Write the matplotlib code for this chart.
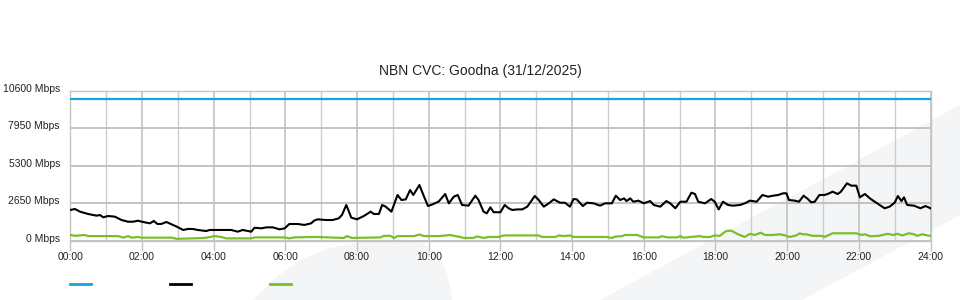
import matplotlib
matplotlib.use("Agg")
import matplotlib.pyplot as plt
import matplotlib.transforms as mtransforms
from matplotlib.patches import Polygon
from matplotlib.lines import Line2D

plt.rcParams['font.family'] = ['Liberation Sans', 'DejaVu Sans']

title = "NBN CVC: Goodna (31/12/2025)"
y_ticks = [0, 2650, 5300, 7950, 10600]
y_tick_labels = ["0 Mbps", "2650 Mbps", "5300 Mbps", "7950 Mbps", "10600 Mbps"]
x_ticks = list(range(0, 25, 2))
x_tick_labels = ["%02d:00" % h for h in x_ticks]

capacity_t = [0, 24]
capacity_v = [10000, 10000]

black_t = [0, 0.13, 0.27, 0.5, 0.73, 0.83, 0.92, 1.05, 1.24, 1.43, 1.61, 1.75, 1.89, 2.03,
           2.22, 2.33, 2.43, 2.54, 2.68, 2.82, 2.97, 3.15, 3.28, 3.42, 3.56, 3.79, 3.89,
           4.12, 4.49, 4.67, 4.81, 4.96, 5.05, 5.14, 5.33, 5.47, 5.65, 5.84, 5.98, 6.11,
           6.35, 6.53, 6.72, 6.80, 6.9, 7.13, 7.32, 7.49, 7.58, 7.70, 7.84, 8.0, 8.19,
           8.38, 8.47, 8.61, 8.70, 8.80, 8.96, 9.13, 9.24, 9.36, 9.48, 9.57, 9.74, 9.87,
           9.98, 10.11, 10.28, 10.46, 10.56, 10.70, 10.81, 10.93, 11.11, 11.30, 11.39,
           11.53, 11.62, 11.72, 11.81, 12.0, 12.12, 12.23, 12.33, 12.47, 12.61, 12.75,
           12.96, 13.07, 13.21, 13.35, 13.49, 13.66, 13.80, 13.94, 14.04, 14.13, 14.30,
           14.42, 14.60, 14.78, 14.92, 15.11, 15.22, 15.34, 15.45, 15.52, 15.62, 15.71,
           15.85, 16.0, 16.18, 16.28, 16.46, 16.63, 16.74, 16.88, 17.02, 17.19, 17.33,
           17.43, 17.52, 17.71, 17.88, 17.98, 18.09, 18.21, 18.35, 18.49, 18.68, 18.82,
           18.96, 19.15, 19.31, 19.47, 19.60, 19.75, 19.89, 19.98, 20.05, 20.21, 20.33,
           20.46, 20.58, 20.67, 20.77, 20.90, 21.04, 21.13, 21.27, 21.41, 21.50, 21.67,
           21.79, 21.93, 22.03, 22.17, 22.31, 22.40, 22.58, 22.72, 22.86, 23.0, 23.09,
           23.19, 23.26, 23.35, 23.54, 23.72, 23.86, 24.0]
black_v = [2158, 2229, 2040, 1875, 1757, 1800, 1640, 1733, 1690, 1450, 1330, 1330, 1400, 1310,
           1215, 1380, 1170, 1170, 1310, 1150, 980, 745, 815, 815, 745, 670, 745,
           745, 745, 625, 745, 670, 625, 905, 860, 930, 930, 790, 860, 1167,
           1167, 1100, 1215, 1400, 1500, 1450, 1450, 1570, 1805, 2512, 1615, 1500, 1733,
           2040, 1875, 1875, 2512, 2395, 2040, 3220, 2865, 2910, 3573, 3220, 3927, 3100,
           2440, 2560, 2760, 3290, 2630, 3100, 3220, 2512, 2465, 3170, 2865,
           2040, 1920, 2350, 2000, 2000, 2512, 2280, 2160, 2200, 2200, 2395,
           3150, 2865, 2395, 2630, 2910, 2675, 2675, 2395, 2935, 2910, 2440,
           2675, 2630, 2465, 2630, 2630, 3170, 2865, 2980, 2790, 2980, 2745,
           2820, 2630, 2790, 2512, 2395, 2790, 2630, 2280, 2745, 2745, 3385,
           3290, 2745, 2630, 2935, 2745, 2200, 2745, 2512, 2465, 2512, 2630,
           2820, 2745, 3220, 3100, 3170, 3220, 3340, 3340, 2865, 2820, 2745,
           3170, 2935, 2700, 2745, 3220, 3220, 3290, 3455, 3290, 3455, 4045,
           3880, 3880, 3055, 3290, 2980, 2820, 2512, 2280, 2395, 2675, 3150,
           2790, 3055, 2512, 2465, 2280, 2440, 2280]

green_t = [0, 0.13, 0.4, 0.5, 1.34, 1.48, 1.61, 1.71, 1.89, 1.98, 2.82, 2.97, 3.42, 3.75,
           4.03, 4.21, 4.35, 5.05, 5.14, 5.98, 6.11, 6.25, 6.86, 7.63, 7.72, 7.86, 8.65,
           8.75, 8.93, 9.03, 9.13, 9.59, 9.74, 9.87, 10.28, 10.6, 10.74, 10.88, 10.97,
           11.25, 11.34, 11.53, 11.67, 11.95, 12.09, 13.07, 13.16, 13.54, 13.63, 13.77,
           13.94, 14.04, 14.97, 15.11, 15.2, 15.39, 15.48, 15.81, 16.0, 16.42, 16.51,
           16.65, 16.93, 17.02, 17.1, 17.57, 17.66, 17.85, 17.98, 18.12, 18.21, 18.3,
           18.44, 18.63, 18.82, 18.96, 19.1, 19.26, 19.38, 19.61, 19.8, 19.94, 20.07,
           20.26, 20.35, 20.44, 20.53, 20.71, 20.95, 21.04, 21.27, 21.93, 22.07, 22.17,
           22.31, 22.55, 22.81, 22.95, 23.07, 23.21, 23.4, 23.54, 23.63, 23.77, 23.91, 24.0]
green_v = [390, 330, 390, 310, 310, 200, 310, 200, 250, 200, 200, 120, 150, 180,
           310, 250, 150, 150, 220, 220, 150, 220, 250, 180, 310, 180, 220,
           330, 330, 180, 310, 310, 420, 310, 310, 390, 310, 250, 180,
           180, 290, 180, 250, 250, 360, 360, 250, 250, 360, 310,
           360, 250, 250, 180, 270, 310, 390, 390, 220, 220, 310,
           220, 220, 310, 200, 310, 250, 250, 360, 330, 510, 670,
           700, 440, 250, 470, 390, 550, 390, 390, 440, 360, 250,
           360, 510, 440, 440, 330, 330, 250, 510, 510, 390, 440,
           300, 330, 470, 390, 470, 360, 510, 440, 330, 440, 360, 330]

W, H = 960, 300
fig = plt.figure(figsize=(W / 100, H / 100), dpi=100)
fig.patch.set_facecolor('white')

# faint background watermark shapes
wm = '#f4f5f7'
band = [(600, 300), (960, 105), (960, 215), (802, 300)]
blob = [(253, 300), (275, 278), (300, 260), (330, 248), (362, 242), (395, 239),
        (418, 240), (435, 252), (446, 270), (451, 290), (452, 300)]
for poly in (band, blob):
    fig.patches.append(Polygon([(x / W, 1 - y / H) for x, y in poly], closed=True,
                               transform=fig.transFigure, facecolor=wm,
                               edgecolor='none', zorder=-10))

ax = fig.add_axes([70.3 / W, 1 - 240.5 / H, 860.2 / W, 149.8 / H])
ax.set_facecolor('none')

ax.set_xlim(0, 24)
ax.set_ylim(0, 10600)

ax.set_xticks(x_ticks)
ax.set_xticklabels(x_tick_labels, fontsize=7.5, color='#222222')
ax.set_xticks(range(1, 24, 2), minor=True)
ax.set_yticks(y_ticks)
ax.set_yticklabels(y_tick_labels, fontsize=7.5, color='#222222')

ax.tick_params(axis='x', which='major', length=7.2, width=1, color='#c4c4c4', pad=1)
ax.tick_params(axis='x', which='minor', length=0)
ax.tick_params(axis='y', length=0, pad=7.5)

shift = mtransforms.ScaledTranslation(0, 3 / 100, fig.dpi_scale_trans)
for lab in ax.get_yticklabels():
    lab.set_transform(lab.get_transform() + shift)

ax.grid(axis='x', which='major', color='#bdbdbd', linewidth=1.1)
ax.grid(axis='x', which='minor', color='#cdcdcd', linewidth=1.0)
ax.grid(axis='y', which='major', color='#bebebe', linewidth=1.3)
ax.set_axisbelow(True)
for s in ax.spines.values():
    s.set_color('#c4c4c4')
    s.set_linewidth(1.0)

blue = '#16a2e3'
green = '#7cbd2c'
ax.plot(capacity_t, capacity_v, color=blue, linewidth=1.6, zorder=3)
ax.plot(black_t, black_v, color='black', linewidth=1.5, zorder=4)
ax.plot(green_t, green_v, color=green, linewidth=1.6, zorder=4)

fig.text(0.5, 1 - 71 / H, title, fontsize=10, color='#222222', ha='center', va='center')

fs = 7.5
fig.legend([Line2D([], [], color=blue, linewidth=2),
            Line2D([], [], color='black', linewidth=2),
            Line2D([], [], color=green, linewidth=2)],
           ['', '', ''], ncol=3, frameon=False, fontsize=fs,
           loc='center left', bbox_to_anchor=(70 / W, 1 - 285 / H),
           borderpad=0, borderaxespad=0, handlelength=2.0,
           handletextpad=0, columnspacing=7.6)

fig.savefig('out.png', dpi=100, facecolor='white')
